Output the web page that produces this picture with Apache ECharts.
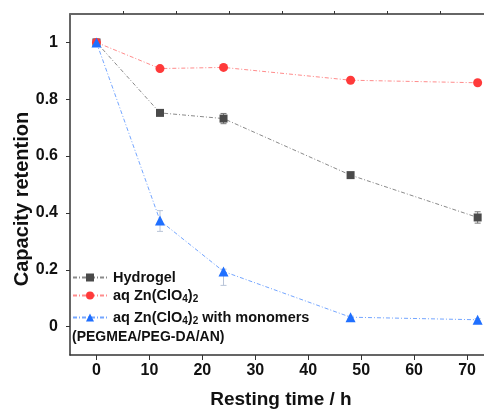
<!DOCTYPE html>
<html>
<head>
<meta charset="utf-8">
<script src="https://cdn.jsdelivr.net/npm/echarts@6/dist/echarts.min.js"></script>
<style>
  html, body { margin: 0; padding: 0; background: #fff; }
  #main { width: 484px; height: 412px; }
</style>
</head>
<body>
<div id="main"></div>
<script>
// resting time (h)
var time = [0, 12, 24, 48, 72];
// capacity retention
var hydrogel = [1.0, 0.752, 0.732, 0.533, 0.384];
var hydrogelErr = [0.005, 0.008, 0.018, 0.008, 0.02];
var aqZn = [1.0, 0.908, 0.912, 0.867, 0.858];
var aqZnErr = [0.004, 0.004, 0.004, 0.004, 0.004];
var monomer = [1.0, 0.373, 0.194, 0.033, 0.024];
var monomerErrLow = [0.005, 0.038, 0.049, 0.004, 0.004];
var monomerErrHigh = [0.005, 0.035, 0.008, 0.004, 0.004];

var xMajorTicks = [0, 10, 20, 30, 40, 50, 60, 70];
var xMinorTicks = [5, 15, 25, 35, 45, 55, 65];
var yMajorTicks = [0, 0.2, 0.4, 0.6, 0.8, 1];
var yMinorTicks = [0.1, 0.3, 0.5, 0.7, 0.9];

var names = ['Hydrogel', 'aq Zn(ClO4)2', 'aq Zn(ClO4)2 with monomers'];

function pairs(ys) {
    return time.map(function (t, i) { return [t, ys[i]]; });
}
function errData(ys, lo, hi) {
    return time.map(function (t, i) { return [t, ys[i], lo[i], hi[i]]; });
}
function errRender(color) {
    return function (params, api) {
        var x = api.value(0), y = api.value(1);
        var lo = api.coord([x, y - api.value(2)]);
        var hi = api.coord([x, y + api.value(3)]);
        var st = { stroke: color, lineWidth: 1 };
        return {
            type: 'group',
            children: [
                { type: 'line', shape: { x1: lo[0], y1: lo[1], x2: hi[0], y2: hi[1] }, style: st },
                { type: 'line', shape: { x1: lo[0] - 3, y1: lo[1], x2: lo[0] + 3, y2: lo[1] }, style: st },
                { type: 'line', shape: { x1: hi[0] - 3, y1: hi[1], x2: hi[0] + 3, y2: hi[1] }, style: st }
            ]
        };
    };
}

var font = 'Liberation Sans, Arial, sans-serif';
var legendRich = {
    n: { fontSize: 14.5, fontWeight: 'bold', color: '#111', fontFamily: font, lineHeight: 18 },
    s: { fontSize: 10, fontWeight: 'bold', color: '#111', fontFamily: font, lineHeight: 11, verticalAlign: 'bottom' }
};
function legendText(name) {
    if (name === names[0]) return '{n|Hydrogel}';
    var t = '{n|aq Zn(ClO}{s|4}{n|)}{s|2}';
    if (name === names[2]) t += '{n| with monomers}';
    return t;
}
function legendAt(name, top) {
    return {
        data: [name], left: 72, top: top, padding: 0,
        itemWidth: 34, itemHeight: 10, selectedMode: false,
        formatter: legendText,
        textStyle: { rich: legendRich, padding: [0, 0, 0, 1] }
    };
}

var myChart = echarts.init(document.getElementById('main'));
var option = {
    backgroundColor: '#fff',
    animation: false,
    grid: { left: 70, right: 0, top: 14, bottom: 57 },
    legend: [
        legendAt(names[0], 270),
        legendAt(names[1], 288),
        legendAt(names[2], 310)
    ],
    xAxis: [{
        type: 'value', min: -5, max: 73.2,
        axisLine: { show: true, onZero: false, lineStyle: { color: '#333', width: 1.5 } },
        axisTick: { show: true, length: 5, customValues: xMajorTicks, lineStyle: { color: '#333' } },
        axisLabel: {
            customValues: xMajorTicks, margin: 8,
            fontSize: 16, fontWeight: 'bold', color: '#111', fontFamily: font
        },
        splitLine: { show: false }
    }, {
        type: 'value', min: -5, max: 73.2,
        axisLine: { show: false, onZero: false },
        axisTick: { show: true, length: 3, customValues: xMinorTicks, lineStyle: { color: '#333' } },
        axisLabel: { show: false },
        splitLine: { show: false }
    }, {
        type: 'value', min: -5, max: 73.2, position: 'top',
        axisLine: { show: true, onZero: false, lineStyle: { color: '#666', width: 2 } },
        axisTick: { show: false },
        axisLabel: { show: false },
        splitLine: { show: false }
    }],
    yAxis: [{
        type: 'value', min: -0.1, max: 1.1,
        axisLine: { show: true, onZero: false, lineStyle: { color: '#333', width: 1.5 } },
        axisTick: { show: true, length: 4, customValues: yMajorTicks, lineStyle: { color: '#333' } },
        axisLabel: {
            customValues: yMajorTicks, margin: 12,
            fontSize: 16, fontWeight: 'bold', color: '#111', fontFamily: font,
            formatter: function (v) { return String(+v.toFixed(1)); }
        },
        splitLine: { show: false }
    }, {
        type: 'value', min: -0.1, max: 1.1,
        axisLine: { show: false, onZero: false },
        axisTick: { show: true, length: 3, customValues: yMinorTicks, lineStyle: { color: '#333' } },
        axisLabel: { show: false },
        splitLine: { show: false }
    }],
    graphic: [{
        type: 'text', left: 72, top: 330,
        style: { text: '(PEGMEA/PEG-DA/AN)', font: 'bold 14px ' + font, fill: '#111' }
    }, {
        type: 'text', x: 22, y: 199, rotation: Math.PI / 2,
        style: { text: 'Capacity retention', font: 'bold 20px ' + font, fill: '#111',
                 align: 'center', verticalAlign: 'middle' }
    }, {
        type: 'text', x: 281, y: 400,
        style: { text: 'Resting time / h', font: 'bold 19px ' + font, fill: '#111',
                 align: 'center', verticalAlign: 'middle' }
    }],
    series: [{
        type: 'custom', renderItem: errRender('#777'), data: errData(hydrogel, hydrogelErr, hydrogelErr),
        encode: { x: 0, y: 1 }, silent: true, z: 1
    }, {
        type: 'custom', renderItem: errRender('#f99'), data: errData(aqZn, aqZnErr, aqZnErr),
        encode: { x: 0, y: 1 }, silent: true, z: 1
    }, {
        type: 'custom', renderItem: errRender('#b8c4d8'), data: errData(monomer, monomerErrLow, monomerErrHigh),
        encode: { x: 0, y: 1 }, silent: true, z: 1
    }, {
        name: names[0], type: 'line', data: pairs(hydrogel),
        symbol: 'rect', symbolSize: 8,
        itemStyle: { color: '#4a4a4a' },
        lineStyle: { color: '#8a8a8a', width: 1, type: [4, 2, 1, 2] }, z: 3
    }, {
        name: names[1], type: 'line', data: pairs(aqZn),
        symbol: 'circle', symbolSize: 9,
        itemStyle: { color: '#ff3a3a' },
        lineStyle: { color: '#ff8c8c', width: 1, type: [4, 2, 1, 2] }, z: 3
    }, {
        name: names[2], type: 'line', data: pairs(monomer),
        symbol: 'triangle', symbolSize: 10,
        itemStyle: { color: '#1f6fff' },
        lineStyle: { color: '#74a6ff', width: 1, type: [4, 2, 1, 2] }, z: 4
    }]
};
myChart.setOption(option);
</script>
</body>
</html>
